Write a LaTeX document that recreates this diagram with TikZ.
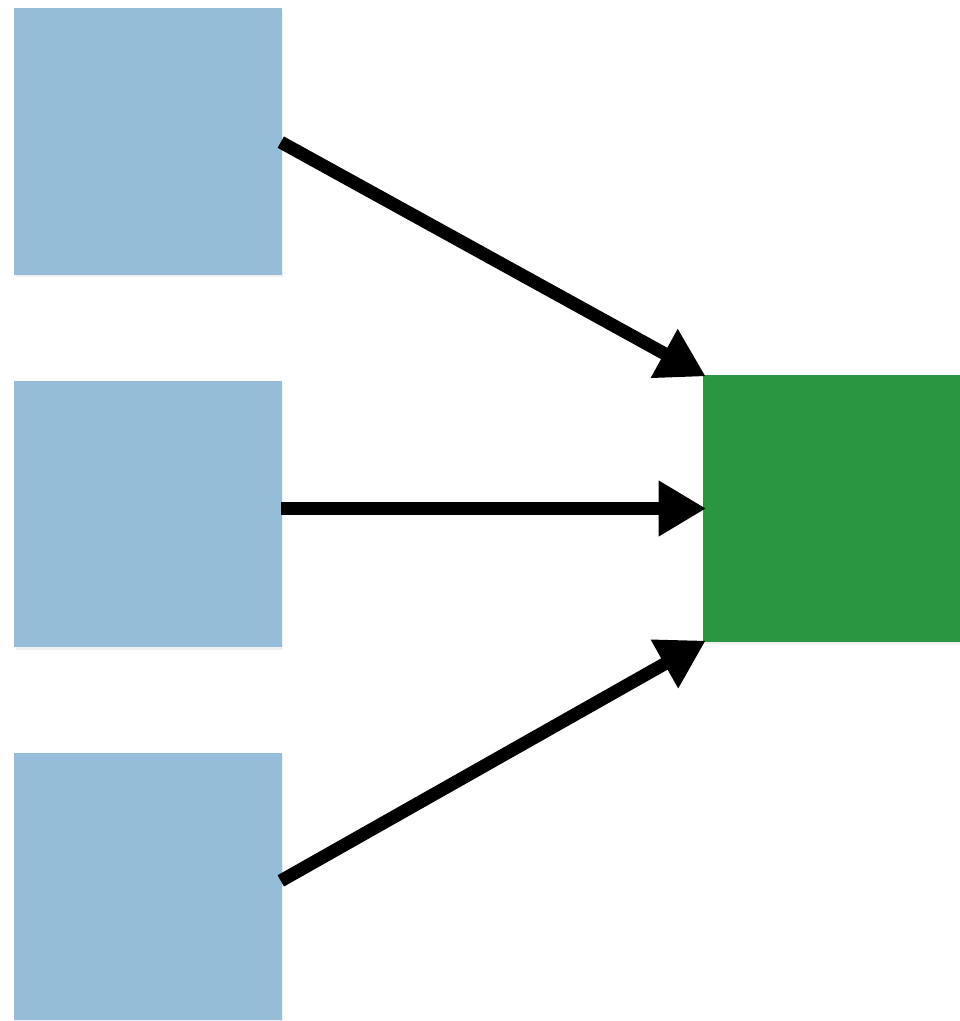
\documentclass[tikz,border=0pt]{standalone}
\usetikzlibrary{arrows.meta,shadows}
\definecolor{inblue}{RGB}{149,189,216}
\definecolor{outgreen}{RGB}{42,150,66}
\begin{document}
\begin{tikzpicture}[x=0.02cm,y=-0.02cm,
	box/.style={rectangle, minimum width=5.36cm, minimum height=5.34cm, inner sep=0pt,
		drop shadow={shadow xshift=0.03cm, shadow yshift=-0.05cm, opacity=0.12}},
	link/.style={line width=0.26cm, -{Triangle[length=0.95cm, width=1.05cm]}, shorten >=-2pt, shorten <=-1pt}]
	\useasboundingbox (0,0) rectangle (960,1021);
	\node (B1) at (148, 141.5)	[box, fill = inblue]	{};
	\node (B2) at (148, 514)	[box, fill = inblue]	{};
	\node (B3) at (148, 886.5)	[box, fill = inblue]	{};
	\node (G)  at (837, 508.5)	[box, fill = outgreen]	{};
	\draw[link] ([yshift=-0.03cm]B1.east) -- (G.north west);
	\draw[link] (B2.east |- G.west) -- (G.west);
	\draw[link] ([yshift=0.13cm]B3.east) -- (G.south west);
\end{tikzpicture}
\end{document}
